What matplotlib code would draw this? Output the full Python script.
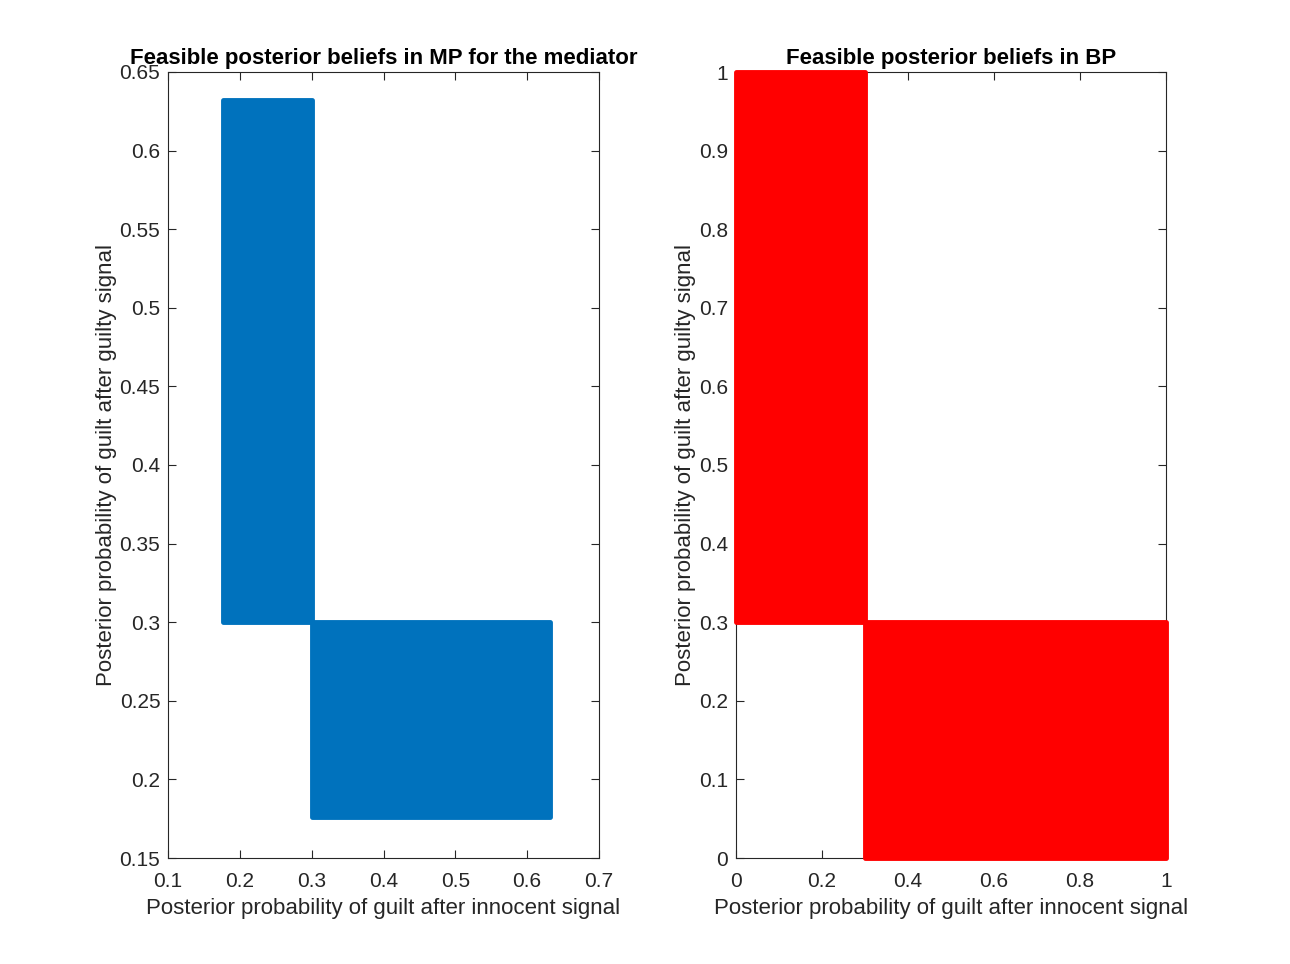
import numpy as np
import matplotlib.pyplot as plt

# rectangle bounds of feasible posterior sets: [x_lo, x_hi, y_lo, y_hi]
mp_rect_guilty = [0.176, 0.3, 0.3, 0.632]
mp_rect_innocent = [0.3, 0.632, 0.176, 0.3]
bp_rect_guilty = [0.0, 0.3, 0.3, 1.0]
bp_rect_innocent = [0.3, 1.0, 0.0, 0.3]

mp_xticks = [0.1, 0.2, 0.3, 0.4, 0.5, 0.6, 0.7]
mp_yticks = [0.15, 0.2, 0.25, 0.3, 0.35, 0.4, 0.45, 0.5, 0.55, 0.6, 0.65]
bp_xticks = [0, 0.2, 0.4, 0.6, 0.8, 1]
bp_yticks = [0, 0.1, 0.2, 0.3, 0.4, 0.5, 0.6, 0.7, 0.8, 0.9, 1]

plt.rcParams['font.family'] = ['Liberation Sans', 'DejaVu Sans']

W, H = 1290, 964
fig = plt.figure(figsize=(W / 100, H / 100), dpi=100)
ax1 = fig.add_axes([168 / W, (H - 858) / H, 431 / W, 786 / H])
ax2 = fig.add_axes([736 / W, (H - 858) / H, 430 / W, 786 / H])


def draw_rect(ax, r, color):
    xs = [r[0], r[1], r[1], r[0]]
    ys = [r[2], r[2], r[3], r[3]]
    ax.fill(xs, ys, facecolor=color, edgecolor=color, linewidth=3.5,
            joinstyle='round', zorder=4, clip_on=False)


def style(ax, xt, yt, xlim, ylim, title):
    ax.set_xlim(xlim)
    ax.set_ylim(ylim)
    ax.set_xticks(xt)
    ax.set_yticks(yt)
    ax.set_xticklabels([f'{v:g}' for v in xt])
    ax.set_yticklabels([f'{v:g}' for v in yt])
    ax.tick_params(direction='in', top=True, right=True, length=6,
                   width=0.8, labelsize=15, colors='#262626')
    ax.tick_params(axis='x', pad=10)
    ax.tick_params(axis='y', pad=5.5)
    for s in ax.spines.values():
        s.set_linewidth(0.8)
        s.set_color('#262626')
    ax.set_xlabel('Posterior probability of guilt after innocent signal',
                  fontsize=16, color='#262626', labelpad=5)
    ax.set_ylabel('Posterior probability of guilt after guilty signal',
                  fontsize=16, color='#262626', labelpad=2)
    ax.set_title(title, fontsize=16, fontweight='bold', pad=6)


draw_rect(ax1, mp_rect_guilty, '#0072BD')
draw_rect(ax1, mp_rect_innocent, '#0072BD')
draw_rect(ax2, bp_rect_guilty, '#FF0000')
draw_rect(ax2, bp_rect_innocent, '#FF0000')

style(ax1, mp_xticks, mp_yticks, (0.1, 0.7), (0.15, 0.65),
      'Feasible posterior beliefs in MP for the mediator')
style(ax2, bp_xticks, bp_yticks, (0, 1), (0, 1),
      'Feasible posterior beliefs in BP')

fig.savefig('out.png', dpi=100)
